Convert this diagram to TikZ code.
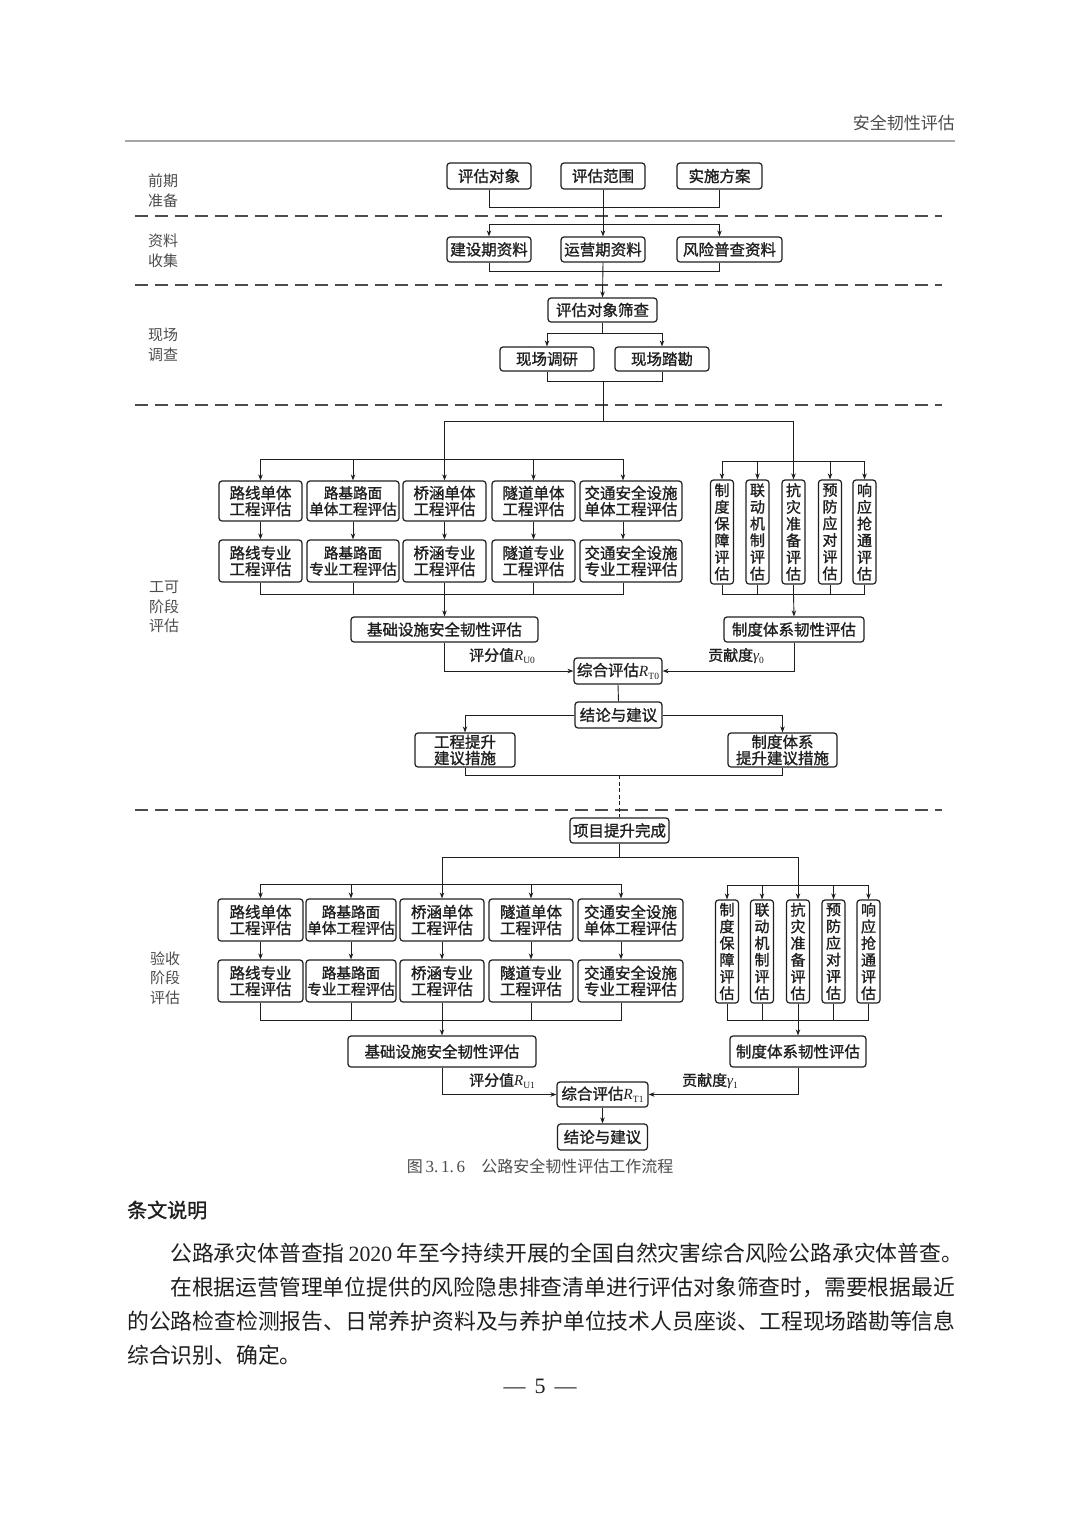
\documentclass[tikz,border=0pt]{standalone}
\usepackage{fontspec}
\setmainfont{Noto Sans CJK SC}
\newfontfamily\latin{Liberation Serif}
\newfontfamily\cjkb[FakeBold=1.3]{Noto Sans CJK SC}
\usetikzlibrary{arrows.meta,calc}
\definecolor{ink}{gray}{0.12}
\definecolor{sepc}{gray}{0.3}
\definecolor{soft}{gray}{0.3}
\newcommand\Rsub[2]{{\latin\itshape #1}\raisebox{-3pt}{\latin\fontsize{9.5}{10}\selectfont #2}}
\tikzset{
 bx/.style={draw=ink, line width=1.2pt, rounded corners=3pt, inner sep=0pt, align=center, text=ink, font=\cjkb\fontsize{15.5}{16.2}\selectfont},
 nb/.style={font=\cjkb\fontsize{14.6}{16.2}\selectfont},
 vbx/.style={bx, minimum width=23pt, minimum height=104pt, font=\cjkb\fontsize{15}{16.7}\selectfont},
 ln/.style={draw=ink, line width=0.9pt},
 arr/.style={ln, -{Stealth[length=6pt,width=4.5pt]}},
 sepline/.style={draw=sepc, line width=1.4pt, dash pattern=on 13pt off 7pt},
 side/.style={align=center, text=soft, font=\fontsize{15}{19.5}\selectfont},
 lbl/.style={text=ink, inner sep=0pt, font=\cjkb\fontsize{15}{16}\selectfont},
 para/.style={anchor=west, inner sep=0pt, text=ink, font=\fontsize{21.8}{22}\selectfont},
}
\begin{document}
\begin{tikzpicture}[x=1pt,y=-1pt]
\fill[white] (0,0) rectangle (1080,1527);
\useasboundingbox (0,0) rectangle (1080,1527);
% header
\node[anchor=east, inner sep=0pt, text=soft, font=\fontsize{17}{18}\selectfont] (hdr) at (955,123) {安全韧性评估};
\draw[draw=gray!70, line width=1.2pt] (125,141) coordinate (hl) -- (955,141) coordinate (hr);
% separators
\foreach \yy/\nm in {216/s1,285/s2,405/s3,810/s4}{
  \draw[sepline] (135,\yy) coordinate (\nm a) -- (942,\yy) coordinate (\nm b);
}
% side labels
\node[side] (lab1) at (163,191) {前期\\准备};
\node[side] (lab2) at (163,251) {资料\\收集};
\node[side] (lab3) at (163,345) {现场\\调查};
\node[side] (lab4) at (164,607) {工可\\阶段\\评估};
\node[side] (lab5) at (165,978) {验收\\阶段\\评估};
% row 1
\node[bx, minimum width=84pt, minimum height=26pt] (a1) at (489,176) {评估对象};
\node[bx, minimum width=84pt, minimum height=26pt] (a2) at (603,176) {评估范围};
\node[bx, minimum width=85pt, minimum height=26pt] (a3) at (719.5,176) {实施方案};
% row 2
\node[bx, minimum width=84pt, minimum height=25pt] (b1) at (489,249.5) {建设期资料};
\node[bx, minimum width=84pt, minimum height=25pt] (b2) at (603,249.5) {运营期资料};
\node[bx, minimum width=105pt, minimum height=25pt] (b3) at (729.5,249.5) {风险普查资料};
\coordinate (j1) at (603,207);
\draw[ln] (a1.south) |- (j1);
\draw[ln] (a3.south) |- (j1);
\draw[arr] (a2.south) -- (b2.north);
\coordinate (j2) at (603,224);
\draw[arr] (j2) -| (b1.north);
\draw[arr] (j2) -| (b3.north -| a3.south);
\coordinate (j3) at (603,271);
\draw[ln] (b1.south) |- (j3);
\draw[ln] (b3.south -| a3.south) |- (j3);
% row 3
\node[bx, minimum width=109pt, minimum height=24pt] (c1) at (602.5,310) {评估对象筛查};
\node[bx, minimum width=94pt, minimum height=24pt] (c2) at (547,359) {现场调研};
\node[bx, minimum width=94pt, minimum height=24pt] (c3) at (662,359) {现场踏勘};
\draw[arr] (b2.south) -- (c1.north);
\coordinate (j4) at (602.5,333);
\draw[ln] (c1.south) -- (j4);
\draw[arr] (j4) -| (c2.north);
\draw[arr] (j4) -| (c3.north);
\coordinate (j5) at (603,381);
\coordinate (j6) at (603,421);
\draw[ln] (c2.south) |- (j5);
\draw[ln] (c3.south) |- (j5);
\draw[ln] (j5) -- (j6);
% group 1 boxes
\node[bx, minimum width=83pt, minimum height=40pt] (d1) at (260.5,501) {路线单体\\工程评估};
\node[bx, nb, minimum width=92pt, minimum height=40pt] (d2) at (353,501) {路基路面\\单体工程评估};
\node[bx, minimum width=83pt, minimum height=40pt] (d3) at (444.5,501) {桥涵单体\\工程评估};
\node[bx, minimum width=83pt, minimum height=40pt] (d4) at (533.5,501) {隧道单体\\工程评估};
\node[bx, minimum width=102pt, minimum height=40pt] (d5) at (631,501) {交通安全设施\\单体工程评估};
\node[bx, minimum width=83pt, minimum height=42pt] (d6) at (260.5,561) {路线专业\\工程评估};
\node[bx, nb, minimum width=92pt, minimum height=42pt] (d7) at (353,561) {路基路面\\专业工程评估};
\node[bx, minimum width=83pt, minimum height=42pt] (d8) at (444.5,561) {桥涵专业\\工程评估};
\node[bx, minimum width=83pt, minimum height=42pt] (d9) at (533.5,561) {隧道专业\\工程评估};
\node[bx, minimum width=102pt, minimum height=42pt] (d10) at (631,561) {交通安全设施\\专业工程评估};
\node[vbx] (g1) at (722,532) {制\\度\\保\\障\\评\\估};
\node[vbx] (g2) at (757.5,532) {联\\动\\机\\制\\评\\估};
\node[vbx] (g3) at (793.5,532) {抗\\灾\\准\\备\\评\\估};
\node[vbx] (g4) at (830,532) {预\\防\\应\\对\\评\\估};
\node[vbx] (g5) at (864.5,532) {响\\应\\抢\\通\\评\\估};
\coordinate (L1) at (444.5,459);
\coordinate (R1) at (793.5,461);
\draw[ln] (j6) -| (L1);
\draw[ln] (j6) -| (R1);
\draw[arr] (L1) -| (d1.north);
\draw[arr] (L1) -| (d2.north);
\draw[arr] (L1) -- (d3.north);
\draw[arr] (L1) -| (d4.north);
\draw[arr] (L1) -| ($(d5.north)+(-8,0)$);
\draw[arr] (d1.south) -- (d6.north);
\draw[arr] (d2.south) -- (d7.north);
\draw[arr] (d3.south) -- (d8.north);
\draw[arr] (d4.south) -- (d9.north);
\draw[arr] ($(d5.south)+(-8,0)$) -- ($(d10.north)+(-8,0)$);
\draw[arr] (R1) -| (g1.north);
\draw[arr] (R1) -| (g2.north);
\draw[arr] (R1) -- (g3.north);
\draw[arr] (R1) -| (g4.north);
\draw[arr] (R1) -| (g5.north);
\coordinate (L2) at (444.5,594);
\coordinate (R2) at (793.5,594);
\draw[ln] (d6.south) |- (L2);
\draw[ln] (d7.south) |- (L2);
\draw[ln] (d8.south) -- (L2);
\draw[ln] (d9.south) |- (L2);
\draw[ln] ($(d10.south)+(-8,0)$) |- (L2);
\foreach \g in {g1,g2,g3,g4,g5}{\draw[ln] (\g.south) |- (R2);}
\node[bx, minimum width=187pt, minimum height=25pt] (f1) at (444.5,629.5) {基础设施安全韧性评估};
\node[bx, minimum width=140pt, minimum height=25pt] (f2) at (794,629.5) {制度体系韧性评估};
\draw[arr] (L2) -- (f1.north);
\draw[arr] (R2) -- (f2.north);
\node[bx, minimum width=88pt, minimum height=26pt] (h1) at (618,671) {综合评估\Rsub{R}{T0}};
\draw[arr] (f1.south) |- (h1.west);
\draw[arr] (f2.south) |- (h1.east);
\node[lbl] (l1) at (502,656) {评分值\Rsub{R}{U0}};
\node[lbl] (l2) at (736,656) {贡献度\Rsub{γ}{0}};
\node[bx, minimum width=87pt, minimum height=26pt] (k1) at (618.5,715) {结论与建议};
\draw[ln] (h1.south) -- (k1.north);
\node[bx, minimum width=100pt, minimum height=34pt] (m1) at (465,750) {工程提升\\建议措施};
\node[bx, minimum width=109pt, minimum height=34pt] (m2) at (782.5,750) {制度体系\\提升建议措施};
\draw[arr] (k1.west) -| (m1.north);
\draw[arr] (k1.east) -| (m2.north);
\coordinate (j11) at (619.5,775);
\draw[ln] (m1.south) |- (j11);
\draw[ln] (m2.south) |- (j11);
\node[bx, minimum width=99pt, minimum height=25pt] (n1) at (619.5,830.5) {项目提升完成};
\draw[ln, dash pattern=on 4pt off 2.5pt] (j11) -- (n1.north);
% group 2
\coordinate (j12) at (619.5,857);
\coordinate (L3) at (442,884);
\coordinate (R3) at (798,885);
\draw[ln] (n1.south) -- (j12);
\draw[ln] (j12) -| (L3);
\draw[ln] (j12) -| (R3);
\node[bx, minimum width=85pt, minimum height=42pt] (p1) at (260.5,920) {路线单体\\工程评估};
\node[bx, nb, minimum width=90pt, minimum height=42pt] (p2) at (351,920) {路基路面\\单体工程评估};
\node[bx, minimum width=84pt, minimum height=42pt] (p3) at (442,920) {桥涵单体\\工程评估};
\node[bx, minimum width=84pt, minimum height=42pt] (p4) at (531,920) {隧道单体\\工程评估};
\node[bx, minimum width=105pt, minimum height=42pt] (p5) at (630.5,920) {交通安全设施\\单体工程评估};
\node[bx, minimum width=85pt, minimum height=42pt] (p6) at (260.5,981) {路线专业\\工程评估};
\node[bx, nb, minimum width=90pt, minimum height=42pt] (p7) at (351,981) {路基路面\\专业工程评估};
\node[bx, minimum width=84pt, minimum height=42pt] (p8) at (442,981) {桥涵专业\\工程评估};
\node[bx, minimum width=84pt, minimum height=42pt] (p9) at (531,981) {隧道专业\\工程评估};
\node[bx, minimum width=105pt, minimum height=42pt] (p10) at (630.5,981) {交通安全设施\\专业工程评估};
\node[vbx, minimum height=103pt] (q1) at (727,951.5) {制\\度\\保\\障\\评\\估};
\node[vbx, minimum height=103pt] (q2) at (762,951.5) {联\\动\\机\\制\\评\\估};
\node[vbx, minimum height=103pt] (q3) at (798,951.5) {抗\\灾\\准\\备\\评\\估};
\node[vbx, minimum height=103pt] (q4) at (833.5,951.5) {预\\防\\应\\对\\评\\估};
\node[vbx, minimum height=103pt] (q5) at (868.5,951.5) {响\\应\\抢\\通\\评\\估};
\draw[arr] (L3) -| (p1.north);
\draw[arr] (L3) -| (p2.north);
\draw[arr] (L3) -- (p3.north);
\draw[arr] (L3) -| (p4.north);
\draw[arr] (L3) -| ($(p5.north)+(-9.5,0)$);
\draw[arr] (p1.south) -- (p6.north);
\draw[arr] (p2.south) -- (p7.north);
\draw[arr] (p3.south) -- (p8.north);
\draw[arr] (p4.south) -- (p9.north);
\draw[arr] ($(p5.south)+(-9.5,0)$) -- ($(p10.north)+(-9.5,0)$);
\draw[arr] (R3) -| (q1.north);
\draw[arr] (R3) -| (q2.north);
\draw[arr] (R3) -- (q3.north);
\draw[arr] (R3) -| (q4.north);
\draw[arr] (R3) -| (q5.north);
\coordinate (L4) at (442,1020);
\coordinate (R4) at (798,1020);
\draw[ln] (p6.south) |- (L4);
\draw[ln] (p7.south) |- (L4);
\draw[ln] (p8.south) -- (L4);
\draw[ln] (p9.south) |- (L4);
\draw[ln] ($(p10.south)+(-9.5,0)$) |- (L4);
\foreach \q in {q1,q2,q3,q4,q5}{\draw[ln] (\q.south) |- (R4);}
\node[bx, minimum width=188pt, minimum height=31pt] (r1) at (442,1051.5) {基础设施安全韧性评估};
\node[bx, minimum width=136pt, minimum height=31pt] (r2) at (798,1051.5) {制度体系韧性评估};
\draw[arr] (L4) -- (r1.north);
\draw[arr] (R4) -- (r2.north);
\node[bx, minimum width=91pt, minimum height=25pt] (s1) at (602.5,1094.5) {综合评估\Rsub{R}{T1}};
\draw[arr] (r1.south) |- (s1.west);
\draw[arr] (r2.south) |- (s1.east);
\node[lbl] (l3) at (502,1081) {评分值\Rsub{R}{U1}};
\node[lbl] (l4) at (710,1081) {贡献度\Rsub{γ}{1}};
\node[bx, minimum width=90pt, minimum height=26pt] (t1) at (602.5,1137) {结论与建议};
\draw[arr] (s1.south) -- (t1.north);
% caption
\node[inner sep=0pt, text=soft, font=\fontsize{16}{16}\selectfont] (cap) at (540,1166) {图{\latin\fontsize{17}{17}\selectfont\,3.\,1.\,6}\hspace{16pt}公路安全韧性评估工作流程};
% text block
\node[anchor=west, inner sep=0pt, text=ink, font=\cjkb\fontsize{20}{21}\selectfont] (head) at (127,1210) {条文说明};
\node[para] (p1l) at (170,1253) {公路承灾体普查指\hspace{4pt}{\latin 2020}\hspace{4pt}年至今持续开展的全国自然灾害综合风险公路承灾体普查。};
\node[para] (p2l) at (170,1287) {在根据运营管理单位提供的风险隐患排查清单进行评估对象筛查时，需要根据最近};
\node[para] (p3l) at (127,1321) {的公路检查检测报告、日常养护资料及与养护单位技术人员座谈、工程现场踏勘等信息};
\node[para] (p4l) at (127,1355) {综合识别、确定。};
\node[inner sep=0pt, text=ink, font=\fontsize{22}{22}\selectfont] (pg) at (540,1386) {{\latin —\hspace{9pt}5\hspace{9pt}—}};
\end{tikzpicture}
\end{document}
